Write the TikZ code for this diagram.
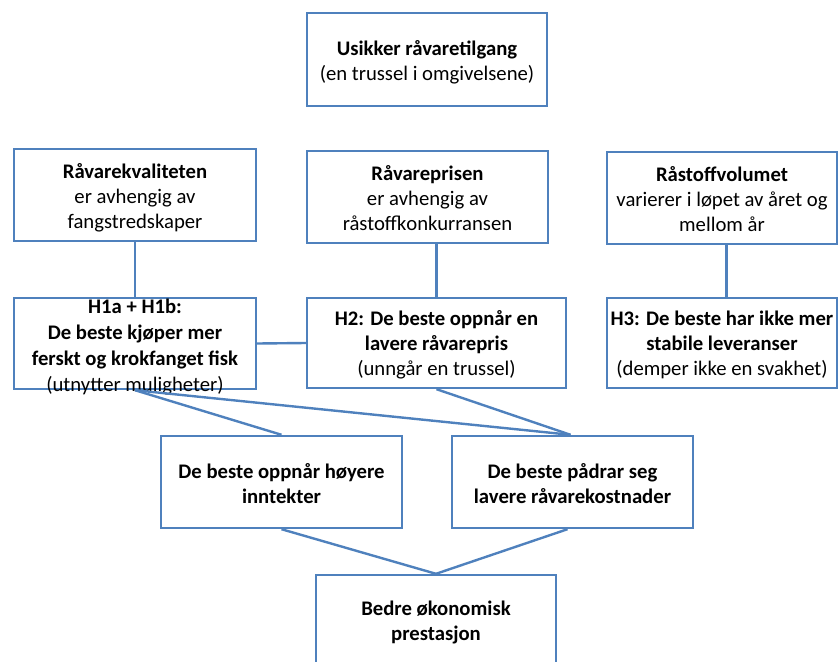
\documentclass[tikz,border=0pt]{standalone}
\usepackage{fontspec}
\setmainfont{Carlito}
\definecolor{boxblue}{RGB}{79,129,189}
\tikzset{
  frame/.style={draw=boxblue, line width=2.4pt, rectangle, inner sep=0pt, fill=none},
  txt/.style={align=center, inner sep=0pt, font=\fontsize{20.7}{25}\selectfont, text=black},
  link/.style={draw=boxblue, line width=2.4pt}
}
\begin{document}
\begin{tikzpicture}[x=1pt,y=-1pt]
\useasboundingbox (0,0) rectangle (839,662);
% boxes
\node[frame, minimum width=240pt, minimum height=93pt] (top) at (427,59.5) {};
\node[frame, minimum width=242pt, minimum height=92pt] (A) at (135,195) {};
\node[frame, minimum width=241pt, minimum height=92pt] (B) at (427.5,197) {};
\node[frame, minimum width=230pt, minimum height=92pt] (C) at (722,198) {};
\node[frame, minimum width=242pt, minimum height=91pt] (H1) at (135,343.5) {};
\node[frame, minimum width=259pt, minimum height=90pt] (H2) at (436.5,343) {};
\node[frame, minimum width=230pt, minimum height=90pt] (H3) at (722,343) {};
\node[frame, minimum width=241pt, minimum height=92pt] (D) at (281.5,482) {};
\node[frame, minimum width=241pt, minimum height=92pt] (E) at (572.5,482) {};
\node[frame, minimum width=240pt, minimum height=93pt] (F) at (436,621.5) {};
% texts
\node[txt] (topt) at ([yshift=-2.5pt]top) {\textbf{Usikker råvaretilgang}\\(en trussel i omgivelsene)};
\node[txt] (At) at ([yshift=-2.5pt]A) {\textbf{Råvarekvaliteten}\\er avhengig av\\fangstredskaper};
\node[txt] (Bt) at ([yshift=-1pt]B) {\textbf{Råvareprisen}\\er avhengig av\\råstoffkonkurransen};
\node[txt] (Ct) at ([yshift=-1pt]C) {\textbf{Råstoffvolumet}\\varierer i løpet av året og\\mellom år};
\node[txt, font=\fontsize{20.7}{25.7}\selectfont] (H1t) at ([yshift=-3.5pt]H1) {\textbf{H1a + H1b:}\\\textbf{De beste kjøper mer}\\\textbf{ferskt og krokfanget fisk}\\(utnytter muligheter)};
\node[txt] (H2t) at ([yshift=-2pt]H2) {\textbf{H2: De beste oppnår en}\\\textbf{lavere råvarepris}\\(unngår en trussel)};
\node[txt] (H3t) at ([yshift=-2pt]H3) {\textbf{H3: De beste har ikke mer}\\\textbf{stabile leveranser}\\(demper ikke en svakhet)};
\node[txt] (Dt) at ([yshift=-2pt]D) {\textbf{De beste oppnår høyere}\\\textbf{inntekter}};
\node[txt] (Et) at ([yshift=-2pt]E) {\textbf{De beste pådrar seg}\\\textbf{lavere råvarekostnader}};
\node[txt] (Ft) at ([yshift=-1pt]F) {\textbf{Bedre økonomisk}\\\textbf{prestasjon}};
% connectors
\draw[link] (A.south) -- (H1.north);
\draw[link] (H2.north |- B.south) -- (H2.north);
\draw[link] ([xshift=4.5pt]C.south) -- ([xshift=4.5pt]C.south |- H3.north);
\draw[link] (H1.east) -- (H2.west);
\draw[link] (H1.south) -- (D.north);
\draw[link] (H1.south) -- ([xshift=-2pt]E.north);
\draw[link] (H2.south) -- ([xshift=-2pt]E.north);
\draw[link] (D.south) -- (F.north);
\draw[link] ([xshift=-5pt]E.south) -- (F.north);
\end{tikzpicture}
\end{document}
